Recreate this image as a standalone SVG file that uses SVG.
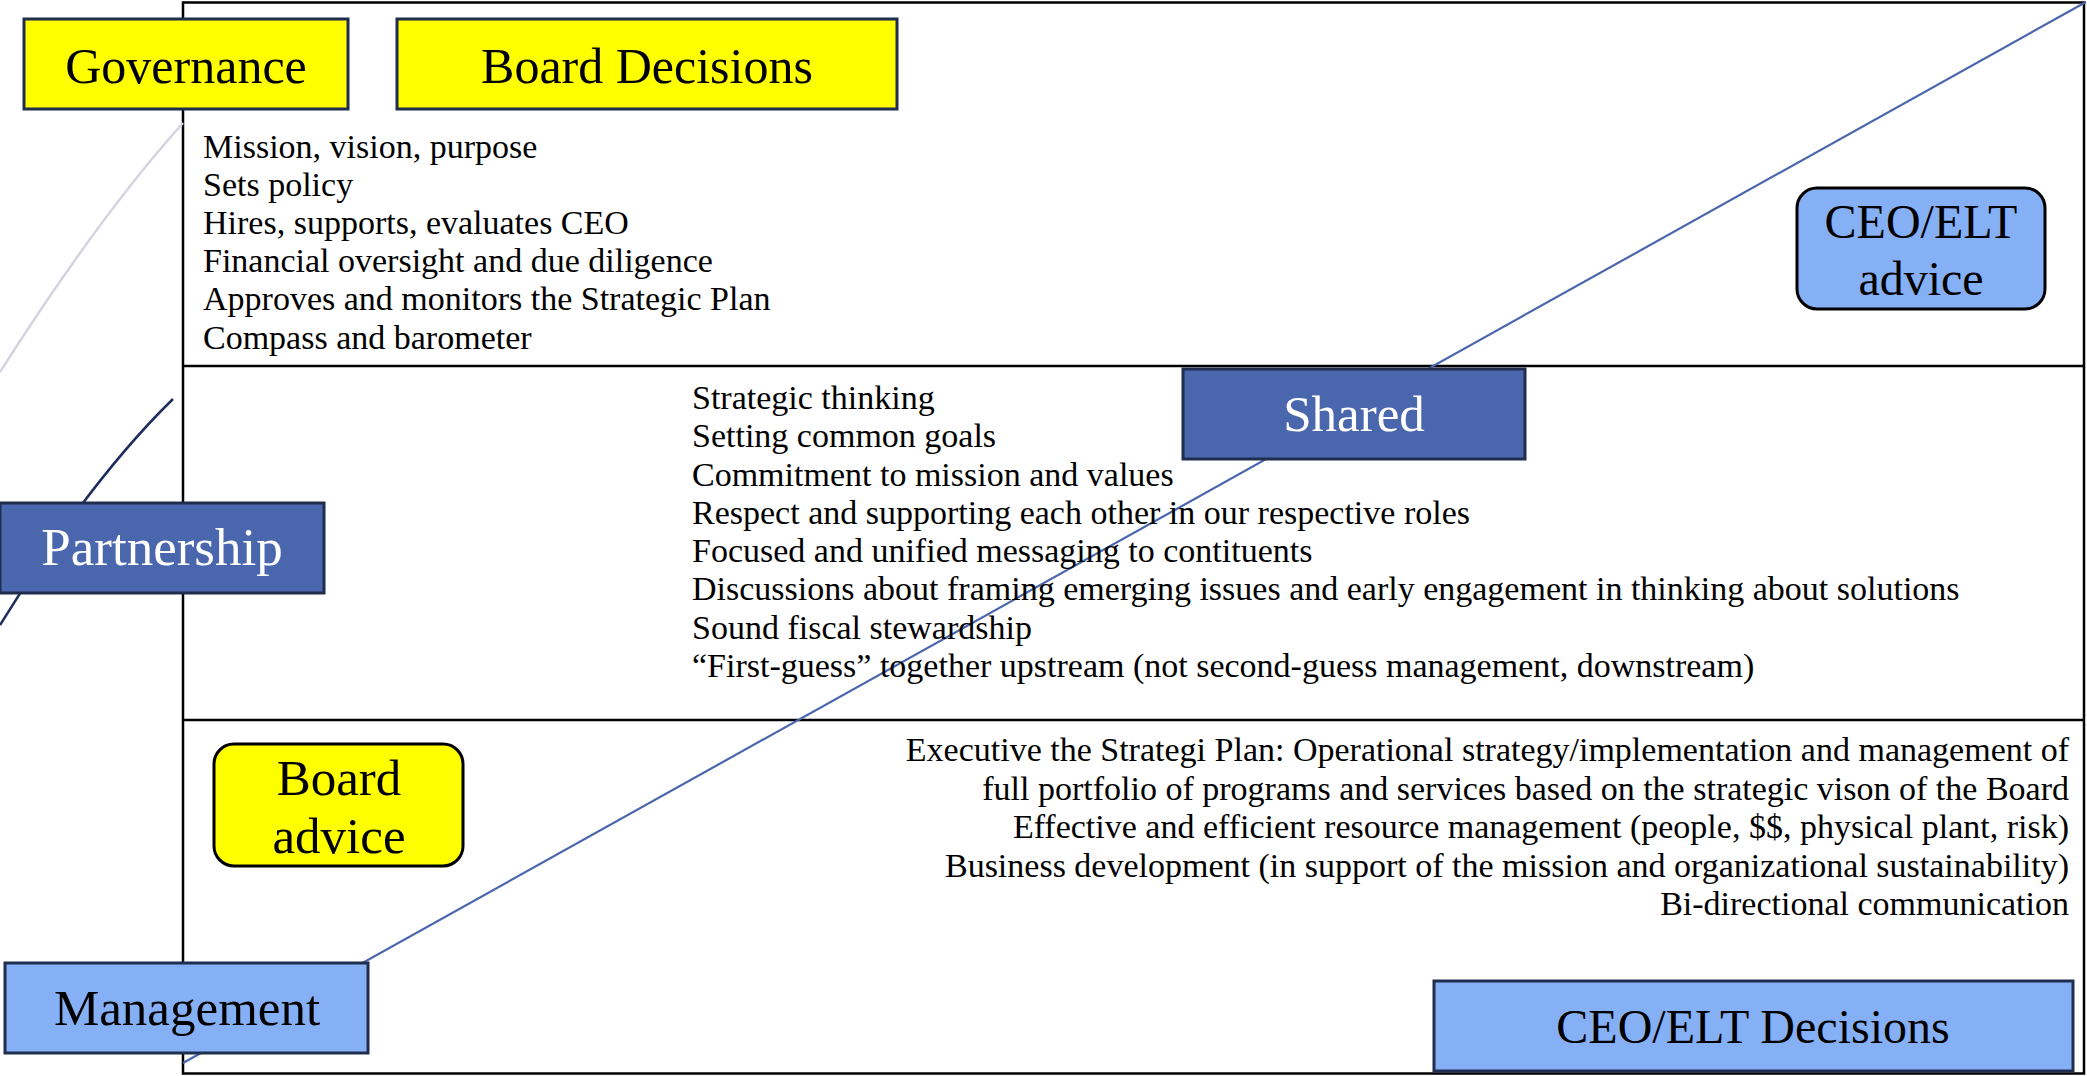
<svg xmlns="http://www.w3.org/2000/svg" width="2087" height="1076" viewBox="0 0 2087 1076">
<style>
  text { font-family: "Liberation Serif", "DejaVu Serif", serif; fill: #000; }
  .frame { fill: none; stroke: #000; stroke-width: 2.5; }
  .box-y { fill: #ffff00; stroke: #1f2d4e; stroke-width: 3; }
  .box-d { fill: #4a67ad; stroke: #1f2d4e; stroke-width: 3; }
  .box-l { fill: #86b0f5; stroke: #1f2d4e; stroke-width: 3; }
  .rnd-y { fill: #ffff00; stroke: #000; stroke-width: 3; }
  .rnd-l { fill: #86b0f5; stroke: #000; stroke-width: 3; }
  .lbl { font-size: 50px; text-anchor: middle; }
  .wlbl { font-size: 52px; text-anchor: middle; fill: #fff; }
  .body { font-size: 34px; }
  .bodyr { font-size: 34px; text-anchor: end; }
</style>
<rect width="2087" height="1076" fill="#fff"/>
<g id="frame">
  <rect class="frame" x="183" y="2.5" width="1901" height="1071"/>
  <line class="frame" x1="183" y1="366" x2="2084" y2="366"/>
  <line class="frame" x1="183" y1="720" x2="2084" y2="720"/>
</g>
<g id="connectors">
  <line x1="2086" y1="2" x2="183" y2="1063" stroke="#4a67ad" stroke-width="2.2"/>
  <path d="M183,123 Q100,215 0,372" fill="none" stroke="#d4d4e0" stroke-width="2.5"/>
  <path d="M173,399 Q90,480 0,625" fill="none" stroke="#1f2d5e" stroke-width="2.5"/>
</g>
<g id="governance">
  <rect class="box-y" x="24" y="19" width="324" height="90"/>
  <text class="lbl" x="186" y="83">Governance</text>
</g>
<g id="board-decisions">
  <rect class="box-y" x="397" y="19" width="500" height="90"/>
  <text class="lbl" x="647" y="83">Board Decisions</text>
</g>
<g id="governance-list">
  <text class="body" x="203" y="158">Mission, vision, purpose</text>
  <text class="body" x="203" y="196">Sets policy</text>
  <text class="body" x="203" y="234">Hires, supports, evaluates CEO</text>
  <text class="body" x="203" y="272">Financial oversight and due diligence</text>
  <text class="body" x="203" y="310">Approves and monitors the Strategic Plan</text>
  <text class="body" x="203" y="349">Compass and barometer</text>
</g>
<g id="ceo-elt-advice">
  <rect class="rnd-l" x="1797" y="188" width="248" height="121" rx="20"/>
  <text class="lbl" x="1921" y="238" style="font-size:48px">CEO/ELT</text>
  <text class="lbl" x="1921" y="295" style="font-size:48px">advice</text>
</g>
<g id="partnership">
  <rect class="box-d" x="0" y="503" width="324" height="90"/>
  <text class="wlbl" x="162" y="565" style="font-size:53px">Partnership</text>
</g>
<g id="shared">
  <rect class="box-d" x="1183" y="369" width="342" height="90"/>
  <text class="wlbl" x="1354" y="431" style="font-size:51px">Shared</text>
</g>
<g id="partnership-list">
  <text class="body" x="692" y="409">Strategic thinking</text>
  <text class="body" x="692" y="447">Setting common goals</text>
  <text class="body" x="692" y="486">Commitment to mission and values</text>
  <text class="body" x="692" y="524">Respect and supporting each other in our respective roles</text>
  <text class="body" x="692" y="562">Focused and unified messaging to contituents</text>
  <text class="body" x="692" y="600">Discussions about framing emerging issues and early engagement in thinking about solutions</text>
  <text class="body" x="692" y="639">Sound fiscal stewardship</text>
  <text class="body" x="692" y="677">“First-guess” together upstream (not second-guess management, downstream)</text>
</g>
<g id="board-advice">
  <rect class="rnd-y" x="214" y="744" width="249" height="122" rx="20"/>
  <text class="lbl" x="339" y="795" style="font-size:51px">Board</text>
  <text class="lbl" x="339" y="853" style="font-size:51px">advice</text>
</g>
<g id="management-list">
  <text class="bodyr" x="2069" y="761">Executive the Strategi Plan: Operational strategy/implementation and management of</text>
  <text class="bodyr" x="2069" y="800">full portfolio of programs and services based on the strategic vison of the Board</text>
  <text class="bodyr" x="2069" y="838">Effective and efficient resource management (people, $$, physical plant, risk)</text>
  <text class="bodyr" x="2069" y="877">Business development (in support of the mission and organizational sustainability)</text>
  <text class="bodyr" x="2069" y="915">Bi-directional communication</text>
</g>
<g id="management">
  <rect class="box-l" x="5" y="963" width="363" height="90"/>
  <text class="lbl" x="187" y="1025" style="font-size:51px">Management</text>
</g>
<g id="ceo-elt-decisions">
  <rect class="box-l" x="1434" y="981" width="639" height="90"/>
  <text class="lbl" x="1753" y="1043" style="font-size:48px">CEO/ELT Decisions</text>
</g>
</svg>
